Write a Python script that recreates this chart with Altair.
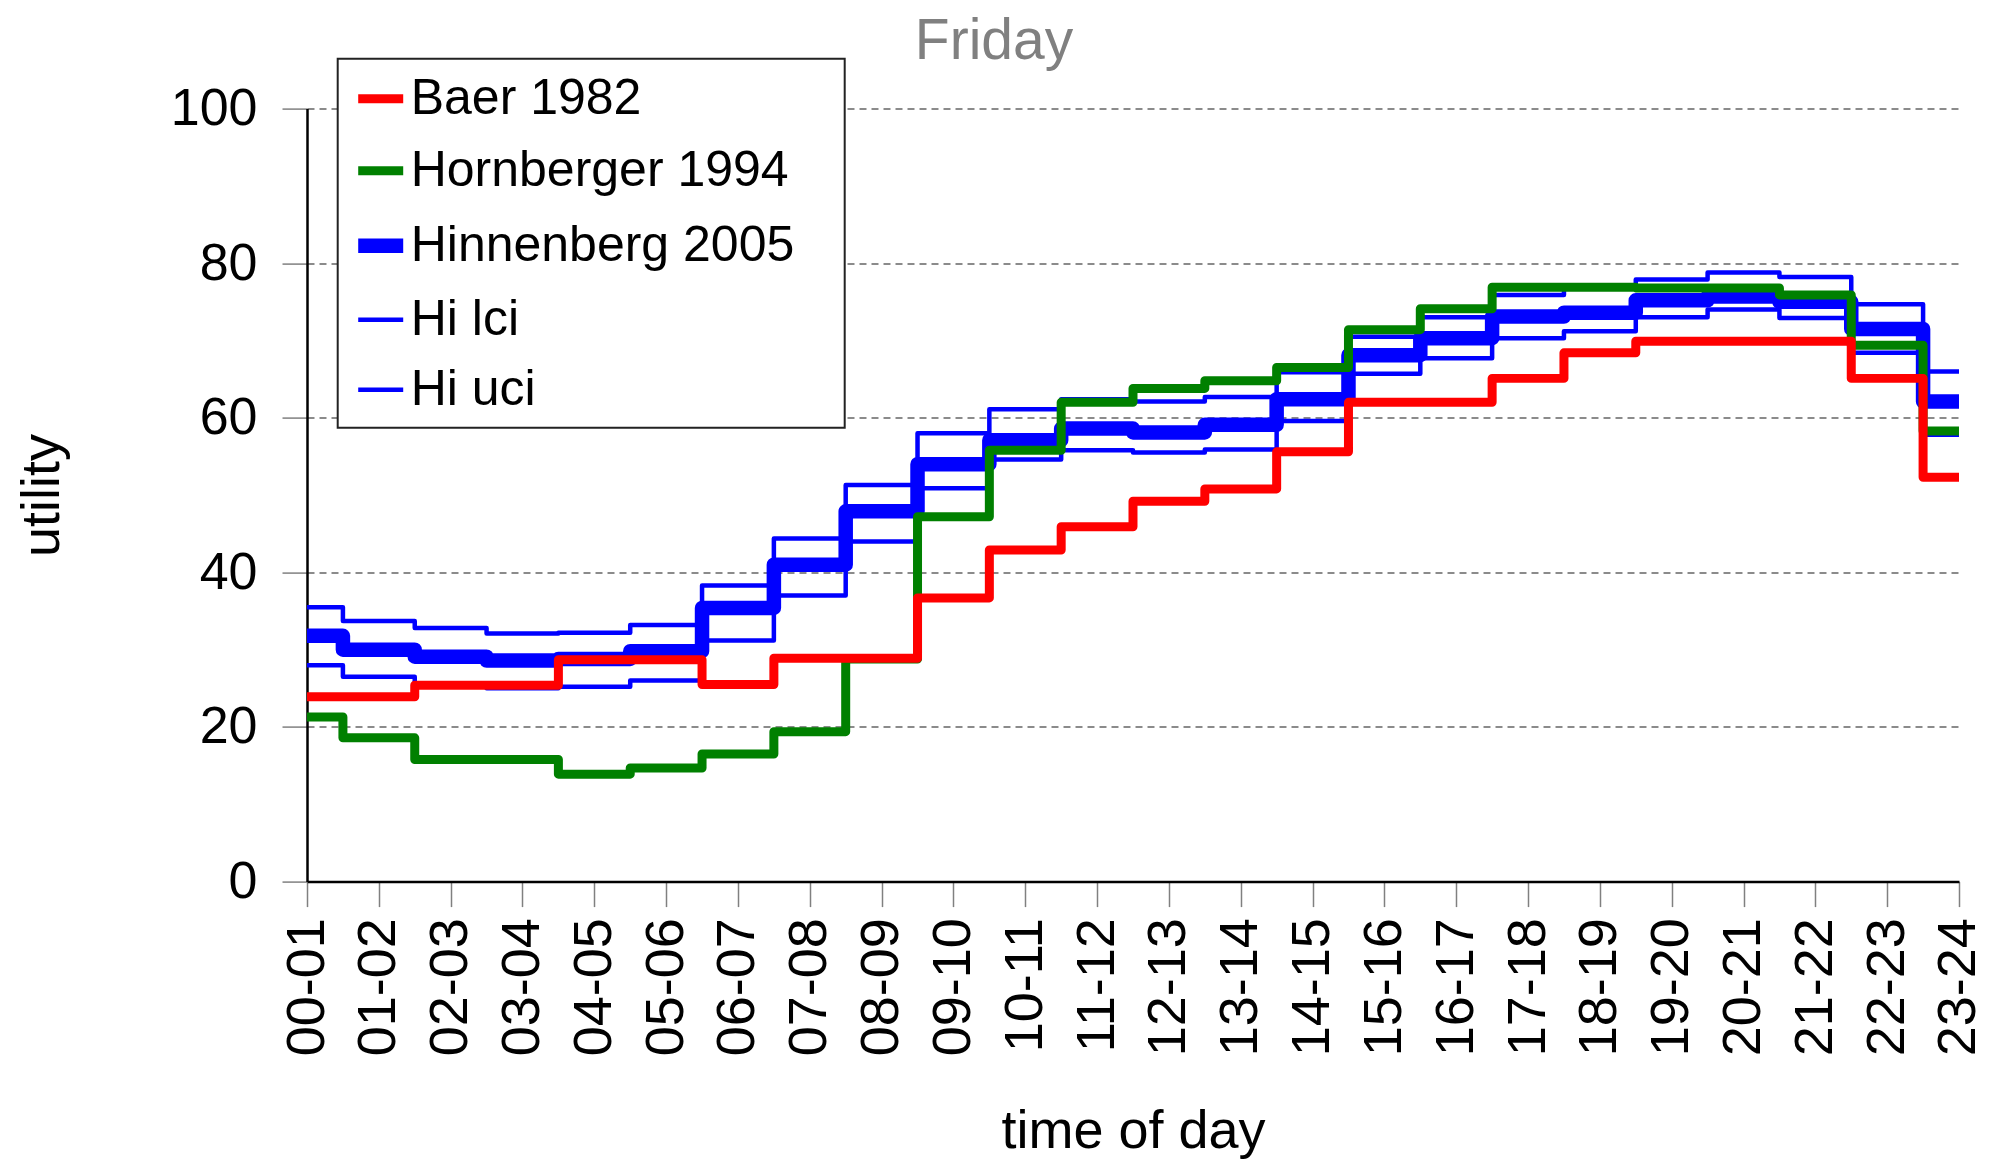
import altair as alt
import pandas as pd

hours = ["00-01", "01-02", "02-03", "03-04", "04-05", "05-06", "06-07", "07-08",
         "08-09", "09-10", "10-11", "11-12", "12-13", "13-14", "14-15", "15-16",
         "16-17", "17-18", "18-19", "19-20", "20-21", "21-22", "22-23", "23-24"]

baer = [23.9, 23.9, 25.4, 25.4, 28.7, 28.7, 25.5, 28.9, 28.9, 36.7, 42.9, 45.9,
        49.2, 50.8, 55.6, 62.0, 62.0, 65.1, 68.4, 69.9, 69.9, 69.9, 65.1, 52.3]
hornberger = [21.3, 18.6, 15.8, 15.8, 13.9, 14.7, 16.5, 19.4, 28.8, 47.2, 55.8, 62.0,
              63.8, 64.8, 66.5, 71.4, 74.1, 76.9, 76.9, 76.8, 76.8, 75.9, 69.4, 58.3]
hinnenberg = [31.8, 30.0, 29.1, 28.6, 28.8, 29.8, 35.4, 41.0, 47.9, 54.0, 57.1, 58.6,
              58.1, 59.1, 62.4, 68.1, 70.3, 73.1, 73.6, 75.2, 75.7, 75.0, 71.5, 62.1]
hi_lci = [28.0, 26.5, 25.6, 25.0, 25.2, 26.0, 31.2, 37.0, 44.0, 50.9, 54.6, 55.8,
          55.5, 55.9, 59.6, 65.7, 67.7, 70.3, 71.2, 73.0, 74.0, 72.9, 68.4, 57.8]
hi_uci = [35.5, 33.7, 32.8, 32.1, 32.2, 33.2, 38.3, 44.4, 51.3, 58.0, 61.1, 62.4,
          62.1, 62.7, 65.9, 70.5, 73.0, 75.9, 76.8, 77.9, 78.8, 78.2, 74.7, 66.0]

series_names = ["Baer 1982", "Hornberger 1994", "Hinnenberg 2005", "Hi lci", "Hi uci"]
series_colors = ["#ff0000", "#008000", "#0000ff", "#0000ff", "#0000ff"]
series_widths = [9, 9, 14.5, 4.5, 4.5]

# drawing order (first drawn = bottom)
draw_order = [("Hi uci", hi_uci), ("Hi lci", hi_lci), ("Hinnenberg 2005", hinnenberg),
              ("Hornberger 1994", hornberger), ("Baer 1982", baer)]

rows = []
for name, vals in draw_order:
    for h, v in zip(hours, vals):
        rows.append({"series": name, "time": h, "utility": v})
df = pd.DataFrame(rows)

FONT = "Liberation Sans"
PAD = "\u2800"  # blank (non-whitespace) filler to widen the legend box

legend = alt.Legend(title=None, orient="none", legendX=30.7,
                    legendY=-49.8, fillColor="white",
                    strokeColor="#222222",
                    padding=13, labelFontSize=50, labelFont=FONT,
                    labelColor="black", symbolType="stroke",
                    symbolSize=2025, labelOffset=0,
                    rowPadding=20, labelLimit=1000,
                    cornerRadius=0,
                    labelExpr="datum.label + '" + PAD + "'")

chart = alt.Chart(df).mark_line(
    interpolate="step", strokeJoin="round", strokeCap="butt"
).encode(
    x=alt.X("time:O", sort=hours,
            scale=alt.Scale(type="point", padding=0),
            axis=alt.Axis(title="time of day", labelAngle=-90, labelFontSize=54,
                          labelFont=FONT, labelColor="black", labelPadding=11,
                          tickSize=25, tickColor="#808080", tickWidth=1.5,
                          domainColor="black", domainWidth=2.5, grid=False,
                          titleFontSize=54, titleFont=FONT, titleFontWeight="normal",
                          titleColor="black", titleX=826, titleY=266,
                          titleBaseline="alphabetic", titleAlign="center")),
    y=alt.Y("utility:Q", scale=alt.Scale(domain=[0, 100], nice=False),
            axis=alt.Axis(title="utility", values=[0, 20, 40, 60, 80, 100],
                          labelFontSize=52, labelFont=FONT, labelColor="black",
                          labelPadding=25, tickSize=25, tickColor="#808080",
                          tickWidth=1.5, domainColor="black", domainWidth=2.5,
                          grid=True, gridDash=[7, 5], gridColor="#666666",
                          gridWidth=1.5,
                          titleFontSize=54, titleFont=FONT, titleFontWeight="normal",
                          titleColor="black", titleX=-265, titleY=386.5,
                          titleAlign="center", titleBaseline="middle")),
    color=alt.Color("series:N", sort=series_names,
                    scale=alt.Scale(domain=series_names, range=series_colors),
                    legend=legend),
    strokeWidth=alt.StrokeWidth("series:N", sort=series_names,
                                scale=alt.Scale(type="ordinal", domain=series_names,
                                                range=series_widths),
                                legend=legend),
).properties(
    width=1652,
    height=773,
    title=alt.TitleParams(text="Friday", fontSize=57, font=FONT, color="#808080",
                          fontWeight="normal", anchor="middle",
                          baseline="alphabetic", offset=0, dy=58, dx=-139),
    autosize=alt.AutoSizeParams(type="none"),
    padding={"left": 299, "top": 100.6, "right": 37, "bottom": 279},
).configure_view(strokeWidth=0).configure_legend(strokeWidth=2)

chart.save("out.html", embed_options={"renderer": "svg", "actions": False})
